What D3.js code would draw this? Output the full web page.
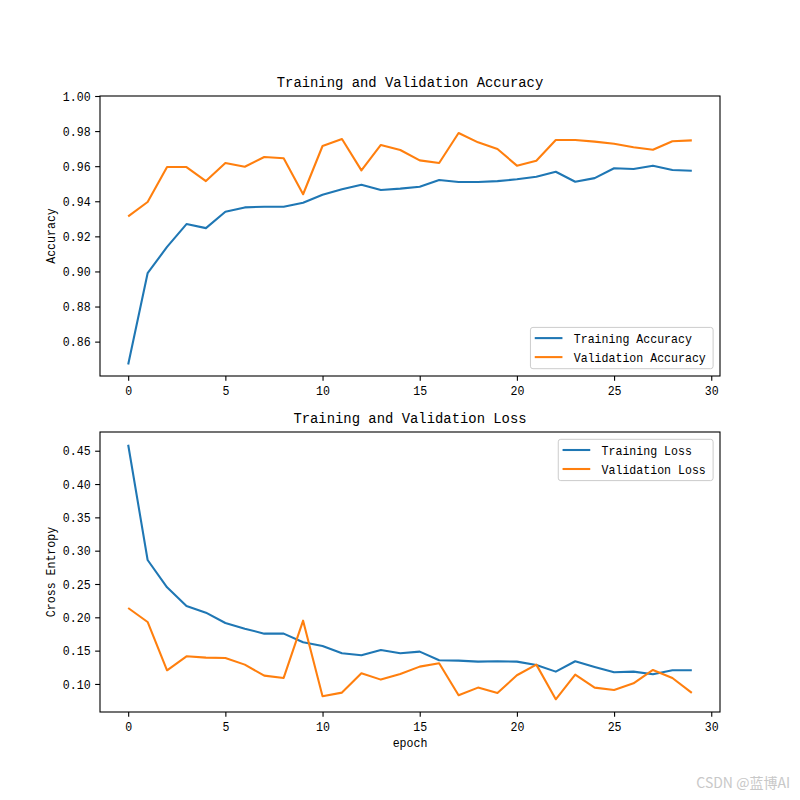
<!DOCTYPE html>
<html>
<head>
<meta charset="utf-8">
<script src="https://cdn.jsdelivr.net/npm/d3@7"></script>
<style>
  body { margin: 0; background: #fff; }
</style>
</head>
<body>
<script>
// data
var epochs = d3.range(0, 30);

var trainAcc = [0.847, 0.899, 0.914, 0.927, 0.9247, 0.934, 0.9365, 0.9369, 0.9369, 0.9392,
                0.9437, 0.9468, 0.9494, 0.9464, 0.9472, 0.9483, 0.9521, 0.951, 0.951, 0.9515,
                0.9525, 0.954, 0.9568, 0.9511, 0.9532, 0.9588, 0.9584, 0.9603, 0.9578, 0.9574];
var valAcc = [0.9314, 0.9396, 0.9595, 0.9595, 0.9515, 0.9618, 0.9597, 0.9652, 0.9645, 0.944,
              0.9715, 0.9755, 0.9576, 0.9721, 0.9692, 0.9633, 0.9618, 0.9789, 0.9736, 0.9698,
              0.9603, 0.9631, 0.9749, 0.9749, 0.974, 0.9728, 0.9708, 0.9694, 0.9742, 0.9747];

var trainLoss = [0.459, 0.286, 0.245, 0.217, 0.207, 0.1915, 0.183, 0.1755, 0.1755, 0.1625,
                 0.157, 0.146, 0.143, 0.151, 0.146, 0.1485, 0.1355, 0.135, 0.1335, 0.134,
                 0.1335, 0.1285, 0.1185, 0.134, 0.1255, 0.1175, 0.1185, 0.1145, 0.1205, 0.1205];
var valLoss = [0.214, 0.193, 0.1205, 0.1415, 0.1395, 0.139, 0.129, 0.1125, 0.109, 0.195,
               0.0815, 0.087, 0.116, 0.1065, 0.115, 0.126, 0.131, 0.083, 0.0945, 0.0865,
               0.113, 0.129, 0.077, 0.114, 0.0945, 0.091, 0.101, 0.121, 0.109, 0.0865];

var xTicks = [0, 5, 10, 15, 20, 25, 30];
var accTicks = [0.86, 0.88, 0.90, 0.92, 0.94, 0.96, 0.98, 1.00];
var lossTicks = [0.10, 0.15, 0.20, 0.25, 0.30, 0.35, 0.40, 0.45];

// figure layout (matplotlib defaults for 8x8 in at 100 dpi)
var svgWidth = 800, svgHeight = 800;
var left = 100, right = 720;
var top1 = 96, bottom1 = 376;
var top2 = 432, bottom2 = 712;

var blue = "#1f77b4", orange = "#ff7f0e";
var mono = "'Liberation Mono', 'DejaVu Sans Mono', monospace";

var svg = d3.select("body").append("svg")
    .attr("width", svgWidth)
    .attr("height", svgHeight);

// half-width glyphs like the original font
function fit(sel, charW) {
  sel.each(function() {
    var n = this.textContent.length;
    d3.select(this)
      .attr("textLength", n * charW)
      .attr("lengthAdjust", "spacingAndGlyphs");
  });
}

function pad(ext) {
  var r = ext[1] - ext[0];
  return [ext[0] - 0.05 * r, ext[1] + 0.05 * r];
}

var xScale = d3.scaleLinear()
    .domain(pad(d3.extent(epochs)))
    .range([left, right]);

function drawPanel(opt) {
  var g = svg.append("g");
  var all = opt.series[0].values.concat(opt.series[1].values);
  var dom = pad(d3.extent(all));
  if (opt.yMax != null) dom[1] = opt.yMax;

  var yScale = d3.scaleLinear().domain(dom).range([opt.bottom, opt.top]);

  // axes
  var xAxis = d3.axisBottom(xScale).tickValues(xTicks).tickSize(4.86).tickPadding(4.5)
      .tickFormat(d3.format("d"));
  var yAxis = d3.axisLeft(yScale).tickValues(opt.ticks).tickSize(4.86).tickPadding(4.5)
      .tickFormat(d3.format(".2f"));

  var gx = g.append("g").attr("transform", `translate(0, ${opt.bottom})`).call(xAxis);
  var gy = g.append("g").attr("transform", `translate(${left}, 0)`).call(yAxis);
  [gx, gy].forEach(function(a) {
    a.select(".domain").remove();
    a.selectAll(".tick line").attr("stroke", "#000").attr("stroke-width", 1.1);
    a.selectAll(".tick text")
      .attr("font-family", mono)
      .attr("font-size", 13)
      .attr("fill", "#000")
      .call(fit, 6.95);
  });

  // lines
  var line = d3.line()
      .x(function(d, i) { return xScale(epochs[i]); })
      .y(function(d) { return yScale(d); });

  opt.series.forEach(function(s) {
    g.append("path")
      .datum(s.values)
      .attr("fill", "none")
      .attr("stroke", s.color)
      .attr("stroke-width", 2.08)
      .attr("stroke-linejoin", "round")
      .attr("d", line);
  });

  // frame
  g.append("rect")
    .attr("x", left).attr("y", opt.top)
    .attr("width", right - left).attr("height", opt.bottom - opt.top)
    .attr("fill", "none").attr("stroke", "#000").attr("stroke-width", 1.1);

  // title
  g.append("text")
    .attr("x", (left + right) / 2)
    .attr("y", opt.top - 9)
    .attr("text-anchor", "middle")
    .attr("font-family", mono)
    .attr("font-size", 15.5)
    .text(opt.title)
    .call(fit, 8.33);

  // y label
  g.append("text")
    .attr("transform", `translate(55, ${(opt.top + opt.bottom) / 2}) rotate(-90)`)
    .attr("text-anchor", "middle")
    .attr("font-family", mono)
    .attr("font-size", 13)
    .text(opt.ylabel)
    .call(fit, 6.95);

  // legend
  var maxChars = d3.max(opt.series, function(s) { return s.name.length; });
  var boxW = 43.3 + maxChars * 6.95 + 7.3;
  var boxH = 41.3;
  var bx = right - 6.9 - boxW;
  var by = opt.legend === "lower right" ? opt.bottom - 7.3 - boxH : opt.top + 7.3;
  var lg = g.append("g").attr("transform", `translate(${bx}, ${by})`);
  lg.append("rect")
    .attr("width", boxW).attr("height", boxH)
    .attr("rx", 2.5)
    .attr("fill", "#fff").attr("fill-opacity", 0.8)
    .attr("stroke", "#cccccc").attr("stroke-width", 1);
  opt.series.forEach(function(s, i) {
    var cy = 10.7 + i * 19;
    lg.append("line")
      .attr("x1", 4.3).attr("x2", 32)
      .attr("y1", cy).attr("y2", cy)
      .attr("stroke", s.color).attr("stroke-width", 2.08);
    lg.append("text")
      .attr("x", 43.3).attr("y", cy)
      .attr("dy", "0.36em")
      .attr("font-family", mono)
      .attr("font-size", 13)
      .text(s.name)
      .call(fit, 6.95);
  });
}

drawPanel({
  top: top1, bottom: bottom1, yMax: 1.0, ticks: accTicks,
  title: "Training and Validation Accuracy", ylabel: "Accuracy", legend: "lower right",
  series: [
    { name: "Training Accuracy", values: trainAcc, color: blue },
    { name: "Validation Accuracy", values: valAcc, color: orange }
  ]
});

drawPanel({
  top: top2, bottom: bottom2, yMax: null, ticks: lossTicks,
  title: "Training and Validation Loss", ylabel: "Cross Entropy", legend: "upper right",
  series: [
    { name: "Training Loss", values: trainLoss, color: blue },
    { name: "Validation Loss", values: valLoss, color: orange }
  ]
});

// x label
svg.append("text")
  .attr("x", (left + right) / 2)
  .attr("y", 747)
  .attr("text-anchor", "middle")
  .attr("font-family", mono)
  .attr("font-size", 13)
  .text("epoch")
  .call(fit, 6.95);

// watermark
svg.append("text")
  .attr("x", 790)
  .attr("y", 788)
  .attr("text-anchor", "end")
  .attr("font-family", "'Noto Sans CJK SC', sans-serif")
  .attr("font-size", 14)
  .attr("fill", "#c8c8c8")
  .text("CSDN @蓝博AI");
</script>
</body>
</html>
